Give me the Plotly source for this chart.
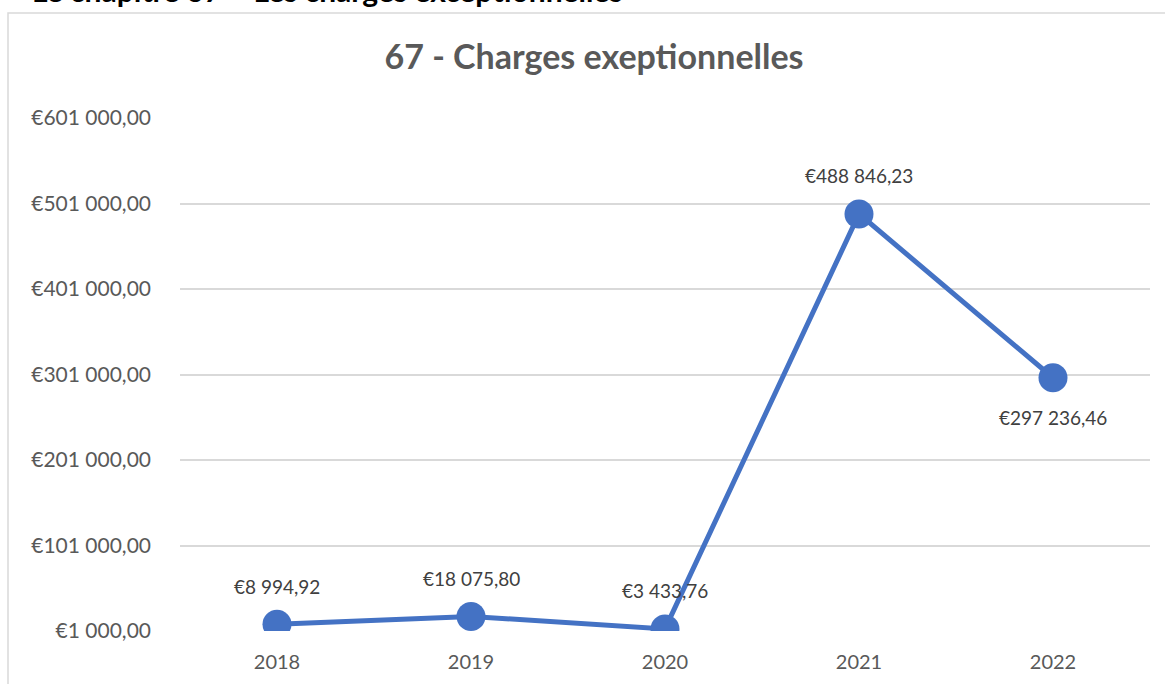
import plotly.graph_objects as go

years = ["2018", "2019", "2020", "2021", "2022"]
values = [8994.92, 18075.80, 3433.76, 488846.23, 297236.46]
label_pos = ["above", "above", "above", "above", "below"]
y_tickvals = [1000, 101000, 201000, 301000, 401000, 501000, 601000]
y_ticktext = ["€1 000,00", "€101 000,00", "€201 000,00", "€301 000,00",
              "€401 000,00", "€501 000,00", "€601 000,00"]

def fmt(v):
    s = f"{v:,.2f}"
    return "€" + s.replace(",", " ").replace(".", ",")

W, H = 1165, 684
L, R, T, B = 180, 15, 118, 53
pw, ph = W - L - R, H - T - B

def px_x(x):
    return (x - L) / pw

def px_y(y):
    return (H - B - y) / ph

FONT = "Lato"
BLUE = "#4472C4"

fig = go.Figure()
fig.add_trace(go.Scatter(
    x=years, y=values, mode="lines+markers",
    line=dict(color=BLUE, width=5),
    marker=dict(color=BLUE, size=29),
    hoverinfo="skip", showlegend=False,
))

annotations = []
for i, (v, pos) in enumerate(zip(values, label_pos)):
    annotations.append(dict(
        x=i, y=v, xref="x", yref="y", text=fmt(v), showarrow=False,
        yshift=38 if pos == "above" else -40,
        font=dict(family=FONT, size=19, color="#404040"),
    ))

# cut-off header text above the chart frame
annotations.append(dict(
    x=px_x(625), y=px_y(-10), xref="paper", yref="paper",
    xanchor="right", yanchor="middle", showarrow=False,
    text="<b>Le chapitre 67 – Les charges exceptionnelles</b>",
    font=dict(family=FONT, size=30, color="#000000"),
))

fig.update_layout(
    width=W, height=H,
    margin=dict(l=L, r=R, t=T, b=B),
    paper_bgcolor="white", plot_bgcolor="white",
    title=dict(text="<b>67 - Charges exeptionnelles</b>",
               x=594 / W, xanchor="center",
               y=1 - 57 / H, yanchor="middle",
               font=dict(family=FONT, size=34, color="#595959")),
    xaxis=dict(type="category", range=[-0.5, 4.5], showgrid=False,
               showline=False, zeroline=False, ticks="",
               tickfont=dict(family=FONT, size=20, color="#595959"),
               ticklabelstandoff=17),
    yaxis=dict(range=[1000, 601000], tickvals=y_tickvals, ticktext=y_ticktext,
               showgrid=True, gridcolor="#D9D9D9", gridwidth=1.5,
               zeroline=False, showline=False, ticks="",
               tickfont=dict(family=FONT, size=21, color="#595959"),
               ticklabelstandoff=28),
    annotations=annotations,
    shapes=[dict(type="rect", xref="paper", yref="paper",
                 x0=px_x(8), x1=px_x(1175), y0=px_y(700), y1=px_y(13),
                 line=dict(color="#D9D9D9", width=1.5), fillcolor="rgba(0,0,0,0)",
                 layer="below")],
)

fig.write_html("out.html", config={"displayModeBar": False},
               post_script="document.body.style.margin='0';document.body.style.overflow='hidden';")
